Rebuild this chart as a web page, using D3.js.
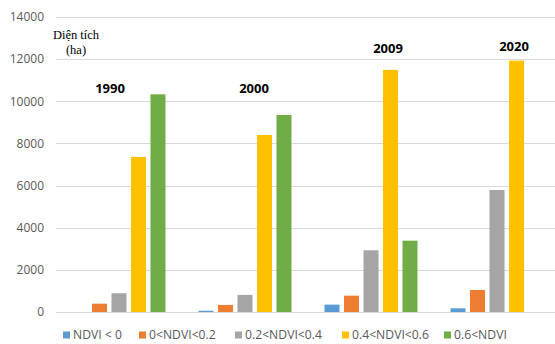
<!DOCTYPE html>
<html>
<head>
<meta charset="utf-8">
<script src="https://cdn.jsdelivr.net/npm/d3@7"></script>
<style>
  html, body { margin: 0; padding: 0; background: #fff; }
  svg { display: block; }
</style>
</head>
<body>
<svg id="chart" width="555" height="344"></svg>
<script>
// NDVI area classes (ha) per survey year
const years = ["1990", "2000", "2009", "2020"];
const classes = ["NDVI < 0", "0<NDVI<0.2", "0.2<NDVI<0.4", "0.4<NDVI<0.6", "0.6<NDVI"];
const ndviNeg   = [0, 60, 350, 175];
const ndvi0_02  = [395, 335, 775, 1045];
const ndvi02_04 = [890, 810, 2930, 5790];
const ndvi04_06 = [7360, 8400, 11490, 11930];
const ndvi06    = [10330, 9350, 3385, 0];
const seriesValues = [ndviNeg, ndvi0_02, ndvi02_04, ndvi04_06, ndvi06];
const colors = ["#5b9bd5", "#ed7d31", "#a5a5a5", "#ffc000", "#70ad47"];
const yTicks = [0, 2000, 4000, 6000, 8000, 10000, 12000, 14000];

const svg = d3.select("#chart");
const plot = { left: 56, right: 560, top: 17, bottom: 312 };

const x0 = d3.scaleBand().domain(years).range([plot.left, plot.right]).padding(0);
const x1 = d3.scaleBand().domain(classes)
  .range([16.5, x0.bandwidth() - 16.5]).paddingInner(0.23).paddingOuter(0);
const y = d3.scaleLinear().domain([0, 14000]).range([plot.bottom, plot.top]);

// gridlines
svg.append("g")
  .selectAll("line")
  .data(yTicks)
  .join("line")
  .attr("x1", plot.left).attr("x2", 555)
  .attr("y1", d => Math.round(y(d)) + 0.5).attr("y2", d => Math.round(y(d)) + 0.5)
  .attr("stroke", "#d9d9d9").attr("stroke-width", 1);

// y-axis labels
const yAxis = d3.axisLeft(y).tickValues(yTicks).tickSize(0).tickPadding(12).tickFormat(d3.format("d"));
const gy = svg.append("g").attr("transform", `translate(${plot.left},0)`).call(yAxis);
gy.select(".domain").remove();
gy.selectAll("text")
  .attr("fill", "#595959")
  .style("font-family", "'Open Sans', 'Liberation Sans', sans-serif")
  .style("font-size", "12px");

// bars
const groups = svg.append("g").selectAll("g")
  .data(years)
  .join("g")
  .attr("transform", d => `translate(${x0(d)},0)`);

groups.selectAll("rect")
  .data((yr, i) => classes.map((c, k) => ({ cls: c, k, value: seriesValues[k][i] })))
  .join("rect")
  .attr("x", d => x1(d.cls))
  .attr("width", x1.bandwidth())
  .attr("y", d => y(d.value))
  .attr("height", d => y(0) - y(d.value))
  .attr("fill", d => colors[d.k]);

// year captions above each cluster
const yearCaption = [
  { dx: -9, y: 88 },
  { dx: 9, y: 88 },
  { dx: 17, y: 48 },
  { dx: 17, y: 46 }
];
svg.append("g").selectAll("text")
  .data(years)
  .join("text")
  .attr("x", (d, i) => x0(d) + x0.bandwidth() / 2 + yearCaption[i].dx)
  .attr("y", (d, i) => yearCaption[i].y)
  .attr("dy", "0.35em")
  .attr("text-anchor", "middle")
  .attr("fill", "#000")
  .style("font-family", "'Open Sans', 'Liberation Sans', sans-serif")
  .style("font-weight", "bold")
  .style("font-size", "13px")
  .text(d => d);

// axis title
const title = svg.append("text")
  .attr("fill", "#000")
  .style("font-family", "'Liberation Serif', 'DejaVu Serif', serif")
  .style("font-size", "12.5px")
  .attr("text-anchor", "middle");
title.append("tspan").attr("x", 76).attr("y", 39).text("Diện tích");
title.append("tspan").attr("x", 76).attr("y", 54).text("(ha)");

// legend
const legendX = [63, 139, 235, 342, 444];
const legend = svg.append("g").selectAll("g")
  .data(classes)
  .join("g")
  .attr("transform", (d, i) => `translate(${legendX[i]},335)`);
legend.append("rect")
  .attr("x", 0).attr("y", -3.5).attr("width", 7).attr("height", 7)
  .attr("fill", (d, i) => colors[i]);
legend.append("text")
  .attr("x", 10).attr("y", 0).attr("dy", "0.35em")
  .attr("fill", "#595959")
  .style("font-family", "'Open Sans', 'Liberation Sans', sans-serif")
  .style("font-size", "12.2px")
  .text(d => d);
</script>
</body>
</html>
